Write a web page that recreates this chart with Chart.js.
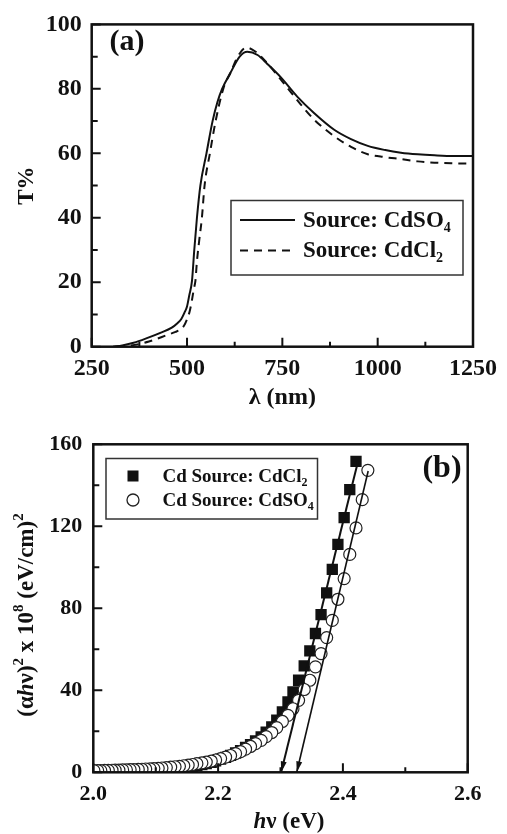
<!DOCTYPE html>
<html>
<head>
<meta charset="utf-8">
<script src="https://cdn.jsdelivr.net/npm/chart.js@4.4.1/dist/chart.umd.min.js"></script>
<style>
  html, body { margin:0; padding:0; background:#fff; }
  #wrap { position:relative; width:507px; height:834px; overflow:hidden; }
  canvas { position:absolute; left:0; }
  #cvA { top:0; }
  #cvB { top:415px; }
</style>
</head>
<body>
<div id="wrap">
  <canvas id="cvA" width="507" height="415"></canvas>
  <canvas id="cvB" width="507" height="419"></canvas>
</div>
<script>
/* ---- panel (a) : transmittance ---- */
const lamSO4 = [306, 330, 360, 400, 430, 460, 474, 485, 493, 500, 506, 513, 519, 526, 535, 551, 567, 580, 592, 614, 638, 658, 685, 710, 745, 789, 833, 886, 930, 974, 1020, 1061, 1105, 1149, 1200, 1250];
const tSO4   = [0, 0.4, 1.2, 2.9, 4.3, 5.9, 7.2, 8.6, 10.5, 12.5, 16, 20.4, 30, 40, 50, 60, 70, 76, 80, 85, 90, 91.5, 90.5, 87.8, 83.7, 77.6, 72.5, 67.3, 64.4, 62.3, 61, 60.2, 59.7, 59.4, 59.2, 59.2];
const lamCl2 = [316, 350, 400, 447, 470, 482, 492, 500, 507, 513, 518, 522, 526, 532, 539, 546, 560, 575, 595, 614, 633, 655, 680, 710, 745, 789, 833, 886, 930, 974, 1020, 1061, 1105, 1149, 1200, 1250];
const tCl2   = [0, 0.3, 1.6, 3.6, 4.6, 5.3, 6.5, 8.5, 11, 14.5, 18, 20.4, 26.5, 33, 40, 50, 60, 70, 80, 85, 90, 92.8, 91.5, 88, 83, 76.5, 70.5, 65.3, 62, 59.7, 58.8, 58.2, 57.5, 57.1, 56.9, 56.8];
const aMinorX = [375, 625, 875, 1125];
const aMinorY = [10, 30, 50, 70, 90];

/* ---- panel (b) : (ahv)^2 vs hv ---- */
const hv = [2.440, 2.431, 2.421, 2.411, 2.402, 2.392, 2.383, 2.374, 2.365, 2.356, 2.347, 2.338, 2.329, 2.320, 2.312,
            2.303, 2.294, 2.286, 2.277, 2.269, 2.260, 2.252, 2.244, 2.236, 2.228, 2.220, 2.212, 2.204, 2.196, 2.189,
            2.181, 2.174, 2.166, 2.159, 2.152, 2.145, 2.138, 2.131, 2.124, 2.117, 2.110, 2.104, 2.097, 2.091, 2.084,
            2.078, 2.072, 2.065, 2.059, 2.053, 2.047, 2.041, 2.035, 2.030, 2.024, 2.018, 2.012, 2.007, 2.001];
const tauCl2 = [null, null, 151.7, 137.9, 124.2, 111.2, 99, 87.5, 76.9, 67.7, 59.2, 51.9, 44.9, 39.2, 34.3,
                29.4, 25.4, 22.2, 19.6, 17.3, 15.3, 13.5, 12.2, 10.6, 9.4, 8.3, 7.3, 6.4, 5.6, 4.9,
                4.3, 3.8, 3.3, 2.9, 2.6, 2.3, 2.0, 1.8, 1.6, 1.4, 1.25, 1.1, 1.0, 0.9, 0.8,
                0.75, 0.7, 0.65, 0.6, 0.55, 0.5, 0.5, 0.45, 0.4, 0.4, 0.35, 0.3, 0.3, 0.3];
const tauSO4 = [147.3, 133, 119.2, 106.3, 94.5, 84.4, 74.1, 65.7, 57.9, 51.4, 44.9, 40.4, 35.1, 31.0, 27.8,
                24.8, 21.8, 19.4, 17.4, 15.6, 14.0, 12.6, 11.3, 10.1, 9.1, 8.2, 7.4, 6.7, 6.0, 5.5,
                5.0, 4.6, 4.2, 3.8, 3.5, 3.2, 2.9, 2.7, 2.5, 2.3, 2.1, 1.95, 1.8, 1.7, 1.6,
                1.5, 1.4, 1.35, 1.3, 1.2, 1.15, 1.1, 1.05, 1.0, 0.95, 0.9, 0.85, 0.8, 0.8];
const fitCl2X = [2.301, 2.4245];
const fitCl2Y = [0, 152];
const fitSO4X = [2.326, 2.4405];
const fitSO4Y = [0, 147];
const bMinorX = [2.1, 2.3, 2.5];
const bMinorY = [20, 60, 100, 140];

const FONT = '"Liberation Serif", "Times New Roman", serif';
const INK = '#111';
Chart.defaults.font.family = FONT;
Chart.defaults.color = INK;

const pts = (xs, ys) => xs.map((x, i) => ({ x: x, y: ys[i] }));

/* draw text made of several pieces (sub/superscripts, italics) */
function richText (ctx, segs, x, y, align, rot) {
    ctx.save();
    ctx.translate(x, y);
    if (rot) ctx.rotate(rot);
    ctx.textBaseline = 'middle';
    ctx.fillStyle = INK;
    const fnt = s => (s.it ? 'italic ' : '') + 'bold ' + s.sz + 'px ' + FONT;
    let total = 0;
    segs.forEach(s => { ctx.font = fnt(s); s.w = ctx.measureText(s.t).width; total += s.w; });
    let cx = ('left' === align) ? 0 : -total / 2;
    segs.forEach(s => { ctx.font = fnt(s); ctx.fillText(s.t, cx, s.dy || 0); cx += s.w; });
    ctx.restore();
}

/* frame + inward ticks */
function frameTicks (chart, minX, minY) {
    const ctx = chart.ctx;
    const {left, right, top, bottom} = chart.chartArea;
    const xs = chart.scales.x, ys = chart.scales.y;
    ctx.save();
    ctx.strokeStyle = INK;
    ctx.lineWidth = 2;
    ctx.beginPath();
    xs.ticks.forEach(t => { const p = xs.getPixelForValue(t.value); ctx.moveTo(p, bottom); ctx.lineTo(p, bottom - 9); });
    minX.forEach(v => { const p = xs.getPixelForValue(v); ctx.moveTo(p, bottom); ctx.lineTo(p, bottom - 5); });
    ys.ticks.forEach(t => { const p = ys.getPixelForValue(t.value); ctx.moveTo(left, p); ctx.lineTo(left + 9, p); });
    minY.forEach(v => { const p = ys.getPixelForValue(v); ctx.moveTo(left, p); ctx.lineTo(left + 6, p); });
    ctx.stroke();
    ctx.lineWidth = 2.5;
    ctx.strokeRect(left, top, right - left, bottom - top);
    ctx.restore();
}

const decoA = {
    id: 'decoA',
    afterDraw (chart) {
        const ctx = chart.ctx;
        frameTicks(chart, aMinorX, aMinorY);
        /* legend */
        ctx.save();
        ctx.strokeStyle = '#333';
        ctx.lineWidth = 1.5;
        ctx.strokeRect(231, 200.5, 232, 74.5);
        ctx.strokeStyle = INK;
        ctx.lineWidth = 2;
        ctx.beginPath(); ctx.moveTo(240, 220); ctx.lineTo(295, 220); ctx.stroke();
        ctx.setLineDash([8, 6]);
        ctx.beginPath(); ctx.moveTo(240, 250.5); ctx.lineTo(295, 250.5); ctx.stroke();
        ctx.restore();
        richText(ctx, [{t:'Source: CdSO', sz:23}, {t:'4', sz:14, dy:7}], 303, 221, 'left');
        richText(ctx, [{t:'Source: CdCl', sz:23}, {t:'2', sz:14, dy:7}], 303, 251.5, 'left');
        richText(ctx, [{t:'(a)', sz:30}], 127, 42, 'center');
    }
};

const decoB = {
    id: 'decoB',
    afterDatasetsDraw (chart) {
        /* arrow heads at the lower end of both fit lines */
        const ctx = chart.ctx;
        [0, 1].forEach(di => {
            const meta = chart.getDatasetMeta(di);
            const p0 = meta.data[0], p1 = meta.data[1];
            const ang = Math.atan2(p0.y - p1.y, p0.x - p1.x);
            ctx.save();
            ctx.translate(p0.x, p0.y);
            ctx.rotate(ang);
            ctx.fillStyle = INK;
            ctx.beginPath();
            ctx.moveTo(0, 0); ctx.lineTo(-11, -3); ctx.lineTo(-11, 3); ctx.closePath();
            ctx.fill();
            ctx.restore();
        });
    },
    afterDraw (chart) {
        const ctx = chart.ctx;
        frameTicks(chart, bMinorX, bMinorY);
        /* legend */
        ctx.save();
        ctx.strokeStyle = '#333';
        ctx.lineWidth = 1.5;
        ctx.strokeRect(106, 43.5, 211.5, 60.5);
        ctx.fillStyle = INK;
        ctx.fillRect(127.5, 55.5, 11, 11);
        ctx.strokeStyle = '#222';
        ctx.lineWidth = 1.3;
        ctx.beginPath(); ctx.arc(133, 85, 6, 0, Math.PI * 2); ctx.stroke();
        ctx.restore();
        richText(ctx, [{t:'Cd Source: CdCl', sz:19}, {t:'2', sz:12, dy:6}], 162.5, 62, 'left');
        richText(ctx, [{t:'Cd Source: CdSO', sz:19}, {t:'4', sz:12, dy:6}], 162.5, 86, 'left');
        richText(ctx, [{t:'(b)', sz:32}], 442, 54, 'center');
        /* axis titles */
        richText(ctx, [{t:'(α', sz:23}, {t:'h', sz:23, it:true}, {t:'ν)', sz:23}, {t:'2', sz:15, dy:-8},
                       {t:' x 10', sz:23}, {t:'8', sz:15, dy:-8}, {t:' (eV/cm)', sz:23}, {t:'2', sz:15, dy:-8}],
                 27, 200, 'center', -Math.PI / 2);
        richText(ctx, [{t:'h', sz:23, it:true}, {t:'ν (eV)', sz:23}], 289, 407, 'center');
    }
};

const tickFont = sz => ({ family: FONT, size: sz, weight: 'bold' });

new Chart(document.getElementById('cvA'), {
    type: 'line',
    data: {
        datasets: [
            { label: 'Source: CdSO4', data: pts(lamSO4, tSO4), borderColor: INK, borderWidth: 2,
              pointRadius: 0, cubicInterpolationMode: 'monotone', fill: false },
            { label: 'Source: CdCl2', data: pts(lamCl2, tCl2), borderColor: INK, borderWidth: 2,
              borderDash: [8, 6], pointRadius: 0, cubicInterpolationMode: 'monotone', fill: false }
        ]
    },
    options: {
        responsive: false,
        animation: false,
        layout: { padding: { left: 0, right: 34, top: 20, bottom: 0 } },
        plugins: { legend: { display: false }, tooltip: { enabled: false } },
        scales: {
            x: {
                type: 'linear', min: 250, max: 1250,
                ticks: { stepSize: 250, font: tickFont(24), padding: 8, color: INK, maxRotation: 0,
                         callback: v => String(v) },
                grid: { display: false, drawTicks: false },
                border: { display: false },
                title: { display: true, text: 'λ (nm)', font: tickFont(24), color: INK, padding: { bottom: 3, top: 0 } },
                afterFit: s => { s.height = 68.3; }
            },
            y: {
                min: 0, max: 100,
                ticks: { stepSize: 20, font: tickFont(24), padding: 10, color: INK },
                grid: { display: false, drawTicks: false },
                border: { display: false },
                title: { display: true, text: 'T%', font: tickFont(23), color: INK, padding: { top: 13, bottom: 0 } },
                afterFit: s => { s.width = 91.7; }
            }
        }
    },
    plugins: [decoA]
});

new Chart(document.getElementById('cvB'), {
    type: 'scatter',
    data: {
        datasets: [
            { label: 'fit CdCl2', type: 'line', data: pts(fitCl2X, fitCl2Y), borderColor: INK, borderWidth: 2,
              pointRadius: 0, fill: false, order: 0 },
            { label: 'fit CdSO4', type: 'line', data: pts(fitSO4X, fitSO4Y), borderColor: INK, borderWidth: 1.6,
              pointRadius: 0, fill: false, order: 0 },
            { label: 'Cd Source: CdSO4', data: pts(hv, tauSO4), pointStyle: 'circle', pointRadius: 6,
              backgroundColor: '#fff', borderColor: '#222', borderWidth: 1.2, order: 1 },
            { label: 'Cd Source: CdCl2', data: pts(hv, tauCl2), pointStyle: 'rect', pointRadius: 8,
              backgroundColor: INK, borderColor: INK, borderWidth: 0, order: 2 }
        ]
    },
    options: {
        responsive: false,
        animation: false,
        layout: { padding: { left: 0, right: 39.3, top: 29.3, bottom: 0 } },
        plugins: { legend: { display: false }, tooltip: { enabled: false } },
        scales: {
            x: {
                type: 'linear', min: 2.0, max: 2.6,
                ticks: { stepSize: 0.2, font: tickFont(22), padding: 9, color: INK, maxRotation: 0,
                         callback: v => Number(v).toFixed(1) },
                grid: { display: false, drawTicks: false },
                border: { display: false },
                afterFit: s => { s.height = 61.7; }
            },
            y: {
                type: 'linear', min: 0, max: 160,
                ticks: { stepSize: 40, font: tickFont(22), padding: 11, color: INK },
                grid: { display: false, drawTicks: false },
                border: { display: false },
                afterFit: s => { s.width = 93.3; }
            }
        }
    },
    plugins: [decoB]
});
</script>
</body>
</html>
